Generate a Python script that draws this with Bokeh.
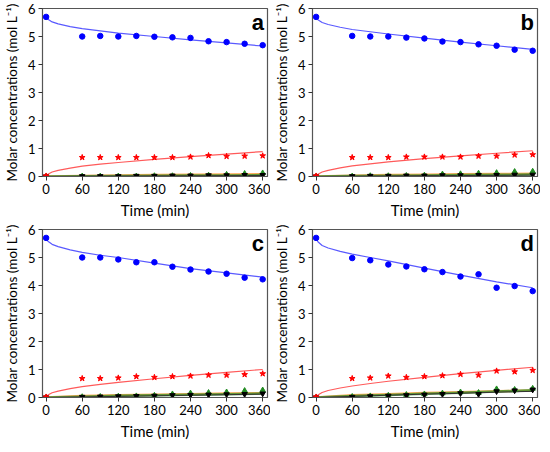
from bokeh.plotting import figure
from bokeh.layouts import gridplot
from bokeh.models import FixedTicker, Label
from bokeh.embed import file_html
from bokeh.resources import INLINE

# Sampling times (min)
t_data = [0, 60, 90, 120, 150, 180, 210, 240, 270, 300, 330, 360]
t_fit = [0, 3, 10, 20, 40, 60, 90, 120, 180, 240, 300, 360]
t_fit_small = [0, 60, 120, 180, 240, 300, 360]

panels = ["a", "b", "c", "d"]

# Blue (circles) measured
blue_a = [5.7, 5.0, 5.02, 5.0, 5.02, 4.99, 4.97, 4.95, 4.83, 4.8, 4.74, 4.69]
blue_b = [5.7, 5.02, 5.0, 5.0, 4.96, 4.93, 4.82, 4.8, 4.72, 4.67, 4.53, 4.49]
blue_c = [5.7, 5.0, 5.0, 4.93, 4.83, 4.83, 4.67, 4.57, 4.5, 4.42, 4.28, 4.22]
blue_d = [5.7, 4.98, 4.9, 4.75, 4.68, 4.58, 4.48, 4.32, 4.4, 3.92, 3.98, 3.8]
# Blue fitted
blue_fit_a = [5.7, 5.62, 5.52, 5.45, 5.35, 5.28, 5.2, 5.12, 5.0, 4.88, 4.77, 4.66]
blue_fit_b = [5.7, 5.6, 5.5, 5.43, 5.33, 5.25, 5.17, 5.09, 4.94, 4.8, 4.67, 4.54]
blue_fit_c = [5.7, 5.58, 5.47, 5.39, 5.27, 5.18, 5.08, 5.0, 4.8, 4.6, 4.45, 4.3]
blue_fit_d = [5.7, 5.56, 5.43, 5.34, 5.22, 5.12, 5.0, 4.88, 4.62, 4.37, 4.13, 3.92]

# Red (stars) measured
red_a = [0.02, 0.68, 0.68, 0.68, 0.68, 0.68, 0.68, 0.7, 0.75, 0.72, 0.73, 0.74]
red_b = [0.02, 0.68, 0.68, 0.68, 0.7, 0.7, 0.7, 0.7, 0.73, 0.73, 0.77, 0.78]
red_c = [0.02, 0.68, 0.68, 0.7, 0.75, 0.72, 0.75, 0.77, 0.8, 0.8, 0.82, 0.85]
red_d = [0.02, 0.68, 0.7, 0.77, 0.72, 0.75, 0.78, 0.83, 0.8, 0.95, 0.92, 0.97]
# Red fitted
red_fit_a = [0, 0.08, 0.16, 0.22, 0.3, 0.37, 0.44, 0.5, 0.61, 0.71, 0.8, 0.89]
red_fit_b = [0, 0.08, 0.16, 0.22, 0.31, 0.38, 0.45, 0.52, 0.64, 0.74, 0.83, 0.92]
red_fit_c = [0, 0.09, 0.17, 0.23, 0.32, 0.39, 0.47, 0.54, 0.67, 0.79, 0.9, 1.0]
red_fit_d = [0, 0.09, 0.18, 0.25, 0.34, 0.41, 0.5, 0.58, 0.72, 0.85, 0.97, 1.08]

# Green (up triangles) measured
green_a = [0, 0.01, 0.01, 0.01, 0.01, 0.02, 0.02, 0.03, 0.04, 0.07, 0.10, 0.12]
green_b = [0, 0.01, 0.02, 0.02, 0.03, 0.04, 0.08, 0.09, 0.11, 0.13, 0.17, 0.18]
green_c = [0, 0.02, 0.03, 0.04, 0.05, 0.07, 0.12, 0.15, 0.17, 0.19, 0.24, 0.26]
green_d = [0, 0.03, 0.05, 0.07, 0.1, 0.12, 0.15, 0.19, 0.17, 0.3, 0.28, 0.32]
# Black (down triangles) measured
black_a = [0, 0.01, 0.01, 0.01, 0.02, 0.02, 0.03, 0.03, 0.04, 0.04, 0.05, 0.05]
black_b = [0, 0.01, 0.02, 0.02, 0.03, 0.03, 0.04, 0.04, 0.05, 0.05, 0.06, 0.06]
black_c = [0, 0.02, 0.03, 0.04, 0.05, 0.06, 0.08, 0.09, 0.1, 0.11, 0.12, 0.14]
black_d = [0, 0.02, 0.04, 0.06, 0.08, 0.1, 0.12, 0.15, 0.12, 0.22, 0.25, 0.28]

# Small fitted curves
orange_fit_a = [0, 0.02, 0.035, 0.05, 0.06, 0.07, 0.08]
orange_fit_b = [0, 0.03, 0.05, 0.065, 0.08, 0.09, 0.1]
orange_fit_c = [0, 0.05, 0.08, 0.1, 0.12, 0.14, 0.15]
orange_fit_d = [0, 0.08, 0.12, 0.16, 0.19, 0.22, 0.25]
green_fit_a = [0, 0.01, 0.02, 0.03, 0.035, 0.04, 0.05]
green_fit_b = [0, 0.015, 0.03, 0.04, 0.05, 0.06, 0.07]
green_fit_c = [0, 0.03, 0.06, 0.08, 0.1, 0.12, 0.14]
green_fit_d = [0, 0.05, 0.09, 0.13, 0.17, 0.21, 0.26]
black_fit_a = [0, 0.01, 0.015, 0.02, 0.025, 0.03, 0.035]
black_fit_b = [0, 0.01, 0.02, 0.03, 0.035, 0.04, 0.05]
black_fit_c = [0, 0.02, 0.04, 0.06, 0.08, 0.1, 0.12]
black_fit_d = [0, 0.04, 0.08, 0.12, 0.15, 0.19, 0.22]

x_ticks = [0, 60, 120, 180, 240, 300, 360]
y_ticks = [0, 1, 2, 3, 4, 5, 6]

FONT = "Lato"

data = {
    "a": (blue_a, blue_fit_a, red_a, red_fit_a, green_a, black_a, orange_fit_a, green_fit_a, black_fit_a),
    "b": (blue_b, blue_fit_b, red_b, red_fit_b, green_b, black_b, orange_fit_b, green_fit_b, black_fit_b),
    "c": (blue_c, blue_fit_c, red_c, red_fit_c, green_c, black_c, orange_fit_c, green_fit_c, black_fit_c),
    "d": (blue_d, blue_fit_d, red_d, red_fit_d, green_d, black_d, orange_fit_d, green_fit_d, black_fit_d),
}


def make_panel(letter):
    bl, blf, rd, rdf, gr, bk, orf, grf, bkf = data[letter]
    p = figure(width=270, height=221, x_range=(-6, 368), y_range=(0, 6),
               output_backend="svg", toolbar_location=None,
               min_border_top=8, min_border_right=3, min_border_left=2, min_border_bottom=2)
    p.xgrid.visible = False
    p.ygrid.visible = False
    p.background_fill_color = "white"
    p.outline_line_color = "#555555"
    p.outline_line_width = 1.2

    # fitted curves
    p.line(t_fit_small, orf, line_color="#ff9933", line_width=2.5, line_alpha=0.8)
    p.line(t_fit_small, grf, line_color="#228b22", line_width=2.5, line_alpha=0.7)
    p.line(t_fit_small, bkf, line_color="#333333", line_width=1)
    p.line(t_fit, rdf, line_color="#ff5a5a", line_width=1.2)
    p.line(t_fit, blf, line_color="#5a5aff", line_width=1.2)

    # measured points
    p.scatter(t_data, gr, marker="triangle", size=5.5, color="#228b22")
    p.scatter(t_data, bk, marker="inverted_triangle", size=5.5, color="black")
    p.scatter(t_data, rd, marker="star", size=6, color="#ff0000")
    p.scatter(t_data, bl, marker="circle", size=5.5, color="#0000ff")

    for ax in (p.xaxis, p.yaxis):
        ax.axis_line_color = "#555555"
        ax.major_tick_line_color = "#333333"
        ax.major_tick_out = 4
        ax.major_tick_in = 0
        ax.minor_tick_line_color = None
        ax.major_label_text_font = FONT
        ax.major_label_text_font_size = "13px"
        ax.major_label_text_color = "black"
        ax.axis_label_text_font = FONT
        ax.axis_label_text_font_style = "normal"
        ax.axis_label_text_color = "black"
    p.xaxis.axis_label_text_font_size = "15px"
    p.yaxis.axis_label_text_font_size = "13.5px"
    p.xaxis.ticker = FixedTicker(ticks=x_ticks)
    p.yaxis.ticker = FixedTicker(ticks=y_ticks)
    p.xaxis.axis_label = "Time (min)"
    p.yaxis.axis_label = "Molar concentrations (mol L\u207b\u00b9)"
    p.xaxis.axis_label_standoff = 4
    p.yaxis.axis_label_standoff = 5
    p.xaxis.major_label_standoff = 3
    p.yaxis.major_label_standoff = 3

    lab = Label(x=362, y=5.93, text=letter, text_align="right", text_baseline="top",
                text_font="Liberation Sans", text_font_style="bold",
                text_font_size="22px", text_color="black")
    p.add_layout(lab)
    return p


figs = [make_panel(k) for k in panels]
grid = gridplot([[figs[0], figs[1]], [figs[2], figs[3]]], toolbar_location=None)

open("out.html", "w").write(file_html(grid, INLINE))
